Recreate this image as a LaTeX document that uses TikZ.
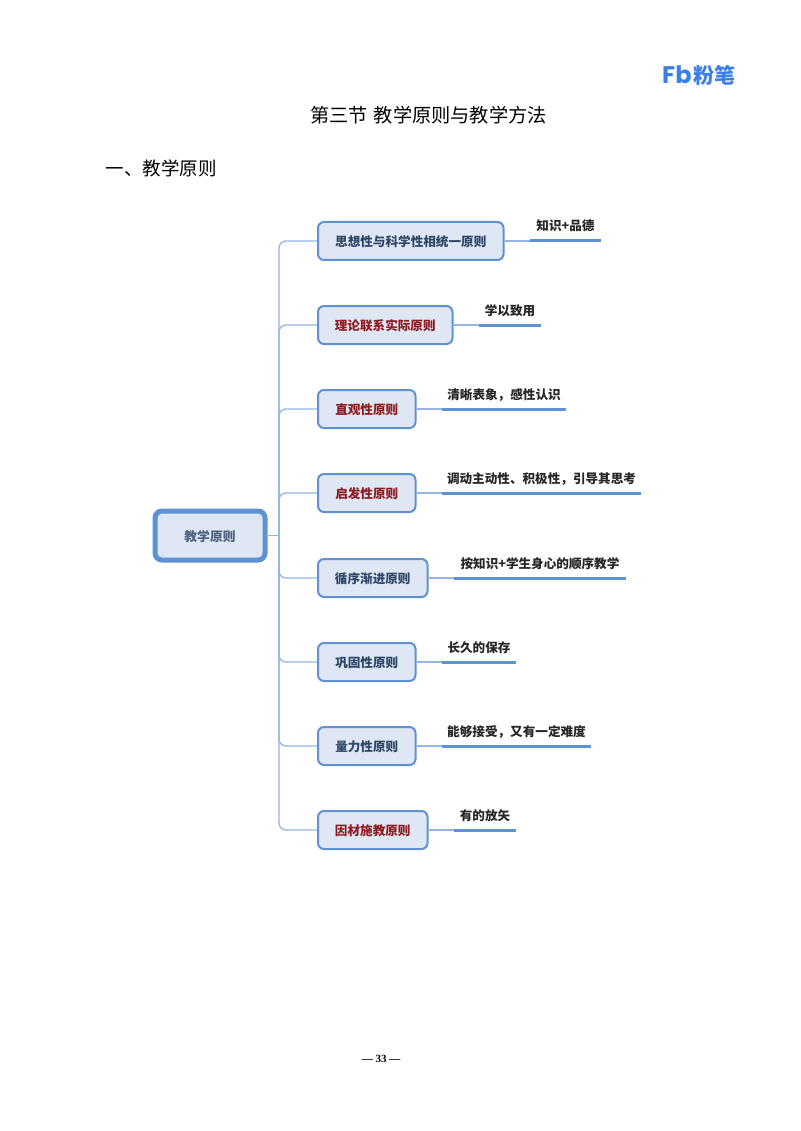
\documentclass[tikz,border=0pt]{standalone}
\usepackage{fontspec}
\newfontfamily\cjk{Noto Sans CJK SC}
\newfontfamily\logofont{Poppins}
\setmainfont{Liberation Serif}
\definecolor{boxfill}{HTML}{DEE7F3}
\definecolor{boxline}{HTML}{5F92D2}
\definecolor{linkline}{HTML}{94B6E0}
\definecolor{navytext}{HTML}{2F4668}
\definecolor{redtext}{HTML}{8E1C22}
\definecolor{logoblue}{HTML}{3D7FE6}
\tikzset{
 sz/.style={font=\cjk\fontsize{#1}{#1}\selectfont},
 kbox/.style={draw=boxline,fill=boxfill,line width=2pt,rounded corners=6pt,inner sep=0pt,minimum height=38pt,text height=12.5pt,text depth=1pt,text=navytext,font=\cjk\bfseries\fontsize{12.6}{15}\selectfont},
 kleaf/.style={anchor=base,text=black!85,font=\cjk\bfseries\fontsize{12.6}{15}\selectfont},
 klink/.style={draw=linkline,line width=1.3pt,rounded corners=7pt},
 kbar/.style={draw=boxline,line width=3pt},
}
\begin{document}
\begin{tikzpicture}[x=1pt,y=-1pt]
\useasboundingbox (0,0) rectangle (800,1131);
\node[sz=19.2] (title) at (428.5,115) {第三节\hspace{6pt}教学原则与教学方法};
\node[sz=18.5,anchor=west] (sect) at (102,168) {一、教学原则};
\node[font=\logofont\bfseries\fontsize{24}{24}\selectfont,text=logoblue,anchor=west,inner sep=0pt] (logoa) at (662,75) {Fb};
\node[font=\cjk\bfseries\fontsize{21}{21}\selectfont,text=logoblue,anchor=west,inner sep=0pt] (logob) at (693.5,75.5) {粉笔};
\node[font=\bfseries\fontsize{11}{11}\selectfont] (page) at (381,1059) {--- 33 ---};

\node[kbox,line width=5pt,minimum width=110pt,minimum height=49pt,rounded corners=7pt,text=navytext!85,font=\cjk\bfseries\fontsize{12.8}{15}\selectfont] (root) at (210,535.5) {教学原则};
\coordinate (trunk) at (279,535.5);
\draw[klink] (root.east) -- (trunk);

% boxes: name / y / width / colour / text
\foreach \n/\y/\w/\c/\t in {
 a/241/185.5/navytext/思想性与科学性相统一原则,
 b/325/134.5/redtext/理论联系实际原则,
 c/409/97.5/redtext/直观性原则,
 d/493/97.5/redtext/启发性原则,
 e/578/109.5/navytext/循序渐进原则,
 f/662/97.5/navytext/巩固性原则,
 g/746/97.5/navytext/量力性原则,
 h/830/109.5/redtext/因材施教原则}
{
 \node[kbox,anchor=west,minimum width=\w pt,text=\c] (\n) at (317,\y) {\t};
 \draw[klink] (trunk) |- (\n.west);
}

% leaves: box / bar start / bar end / text
\foreach \n/\s/\e/\t in {
 a/530/601/知识+品德,
 b/479/541/学以致用,
 c/442/566/清晰表象，感性认识,
 d/442/641/调动主动性、积极性，引导其思考,
 e/454/626/按知识+学生身心的顺序教学,
 f/442/516/长久的保存,
 g/442/591/能够接受，又有一定难度,
 h/454/516/有的放矢}
{
 \coordinate (s\n) at (\s,0 |- \n.east);
 \coordinate (e\n) at (\e,0 |- \n.east);
 \draw[klink] (\n.east) -- (s\n);
 \draw[kbar] (s\n) -- (e\n);
 \path (s\n) -- (e\n) node[midway,yshift=10pt,kleaf] (l\n) {\t};
}
\end{tikzpicture}
\end{document}
